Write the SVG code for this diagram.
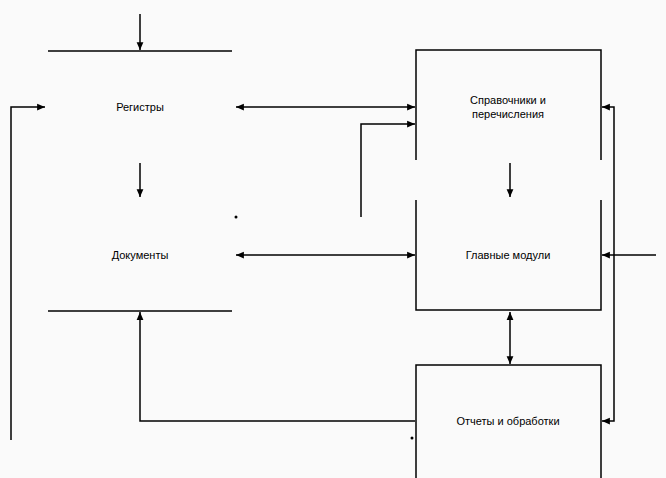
<svg xmlns="http://www.w3.org/2000/svg" width="666" height="478" viewBox="0 0 666 478">
<style>
.l{stroke:#000;stroke-width:1.5;fill:none}
.t{font-family:"Liberation Sans",Arial,sans-serif;font-size:11px;fill:#000;text-anchor:middle}
</style>
<defs>
<marker id="a" viewBox="0 0 8 8" refX="7" refY="4" markerWidth="6" markerHeight="6" orient="auto-start-reverse"><path d="M0,1 L7,4 L0,7 z" fill="#000"/></marker>
</defs>
<rect width="666" height="478" fill="#fafafa"/>
<g id="registers"><line class="l" x1="48" y1="51" x2="232" y2="51"/><text class="t" x="140" y="111">Регистры</text></g>
<g id="documents"><line class="l" x1="48" y1="311" x2="232" y2="311"/><text class="t" x="140" y="259">Документы</text></g>
<g id="refs"><path class="l" d="M416,160 V50 H601 V160"/><text class="t" x="508" y="104">Справочники и</text><text class="t" x="508" y="118">перечисления</text></g>
<g id="modules"><path class="l" d="M416,200 V310 H601 V200"/><text class="t" x="508" y="259">Главные модули</text></g>
<g id="reports"><path class="l" d="M416,478 V365 H601 V478"/><text class="t" x="508" y="425">Отчеты и обработки</text></g>
<g id="connectors">
<line class="l" x1="140" y1="14" x2="140" y2="50" marker-end="url(#a)"/>
<line class="l" x1="140" y1="163" x2="140" y2="197" marker-end="url(#a)"/>
<path class="l" d="M11,440 V107 H45" marker-end="url(#a)"/>
<line class="l" x1="236" y1="107" x2="415" y2="107" marker-start="url(#a)" marker-end="url(#a)"/>
<path class="l" d="M361,217 V124 H415" marker-end="url(#a)"/>
<line class="l" x1="236" y1="255" x2="415" y2="255" marker-start="url(#a)" marker-end="url(#a)"/>
<path class="l" d="M415,421 H140 V312" marker-end="url(#a)"/>
<line class="l" x1="510" y1="163" x2="510" y2="197" marker-end="url(#a)"/>
<line class="l" x1="510" y1="312" x2="510" y2="364" marker-start="url(#a)" marker-end="url(#a)"/>
<path class="l" d="M602,107 H614 V421 H602" marker-start="url(#a)" marker-end="url(#a)"/>
<line class="l" x1="656" y1="255" x2="602" y2="255" marker-end="url(#a)"/>
<circle cx="236" cy="217" r="1.5" fill="#000"/>
<circle cx="412" cy="438" r="1.5" fill="#000"/>
</g>
</svg>
